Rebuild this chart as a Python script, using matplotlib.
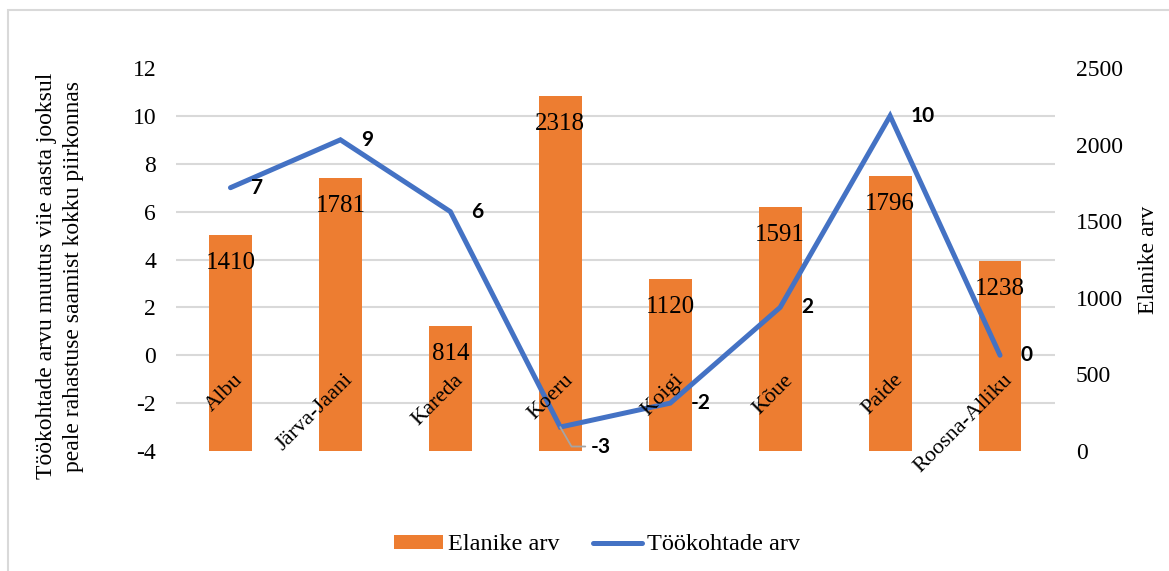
import numpy as np
import matplotlib
matplotlib.use("Agg")
import matplotlib.pyplot as plt
from matplotlib.patches import Rectangle
from matplotlib.transforms import offset_copy

# data
kohad = ["Albu", "Järva-Jaani", "Kareda", "Koeru", "Koigi", "Kõue", "Paide", "Roosna-Alliku"]
elanikud = [1410, 1781, 814, 2318, 1120, 1591, 1796, 1238]
tookohad = [7, 9, 6, -3, -2, 2, 10, 0]

left_ticks = [-4, -2, 0, 2, 4, 6, 8, 10, 12]
right_ticks = [0, 500, 1000, 1500, 2000, 2500]

ORANGE = "#ED7D31"
BLUE = "#4472C4"
GRID = "#D9D9D9"
SERIF = "Liberation Serif"
BOLDF = "Lato"

plt.rcParams["font.family"] = [SERIF, "DejaVu Sans"]
plt.rcParams["axes.unicode_minus"] = False

fig = plt.figure(figsize=(11.69, 5.71), dpi=100)
ax = fig.add_axes([175.5/1169, 1-451/571, (1055-175.5)/1169, (451-68)/571])
axb = ax.twinx()
ax.set_zorder(axb.get_zorder() + 1)
ax.patch.set_visible(False)

x = np.arange(len(kohad))

# bars on the right-hand scale
bars = axb.bar(x, elanikud, width=0.39, color=ORANGE, zorder=2, label="Elanike arv")
axb.set_ylim(0, 2500)
axb.set_yticks(right_ticks)
# gridlines follow the left scale, drawn under the bars
lo, hi = left_ticks[0], left_ticks[-1]
axb.set_yticks([(v - lo) / (hi - lo) * 2500 for v in left_ticks], minor=True)
axb.grid(which="minor", axis="y", color=GRID, lw=1.5, zorder=0)
axb.set_axisbelow(True)
axb.tick_params(axis="y", which="both", length=0, pad=15, labelsize=17)
axb.tick_params(axis="y", which="minor", labelright=False)
axb.set_ylabel("Elanike arv", fontsize=17, labelpad=11)

for b, v in zip(bars, elanikud):
    axb.annotate(str(v), (b.get_x() + b.get_width()/2, v), xytext=(0, -12),
                 textcoords="offset points", ha="center", va="top", fontsize=18)

# line on the left-hand scale
ln, = ax.plot(x, tookohad, color=BLUE, lw=3.6, solid_capstyle="round",
              solid_joinstyle="miter", label="Töökohtade arv", zorder=3)
ax.set_ylim(lo, hi)
ax.set_yticks(left_ticks)
ax.set_xlim(-0.5, len(kohad) - 0.5)
ax.set_xticks([])
ax.tick_params(axis="y", length=0, pad=14, labelsize=17)
axb.set_xticks([])

for xi, v in zip(x, tookohad):
    if v == min(tookohad):
        ax.annotate(str(v), (xi, v), xytext=(22, -14), textcoords="offset points",
                    ha="left", va="center", fontsize=15, fontweight="bold",
                    family=BOLDF,
                    arrowprops=dict(arrowstyle="-", color="#A5A5A5", lw=1.3,
                                    shrinkA=2, shrinkB=0,
                                    connectionstyle="angle,angleA=0,angleB=-60,rad=0"))
    else:
        ax.annotate(str(v), (xi, v), xytext=(15, 0), textcoords="offset points",
                    ha="left", va="center", fontsize=15, fontweight="bold",
                    family=BOLDF)

# category names sit at the zero line of the left axis
for xi, name in zip(x, kohad):
    tr = offset_copy(ax.transData, fig=fig, x=12, y=-11, units="points")
    ax.text(xi, 0, name, transform=tr, rotation=45, ha="right", va="top", fontsize=16)

for a in (ax, axb):
    for s in a.spines.values():
        s.set_visible(False)

fig.text(60/1169, 1-276/571,
         "Töökohtade arvu muutus viie aasta jooksul\npeale rahastuse saamist kokku piirkonnas",
         rotation=90, ha="center", va="center", fontsize=17, multialignment="center",
         linespacing=1.35)

fig.legend(handles=[bars, ln], loc="center", bbox_to_anchor=(597/1169, 1-545/571),
           ncol=2, frameon=False, fontsize=17.5, handlelength=2.0, handleheight=0.5,
           handletextpad=0.2, columnspacing=1.4)

fig.add_artist(Rectangle((8/1169, -0.1), 1.2, 1.1 - 10/571, transform=fig.transFigure,
                         fill=False, ec=GRID, lw=1.5))

fig.savefig("out.png", dpi=100)
